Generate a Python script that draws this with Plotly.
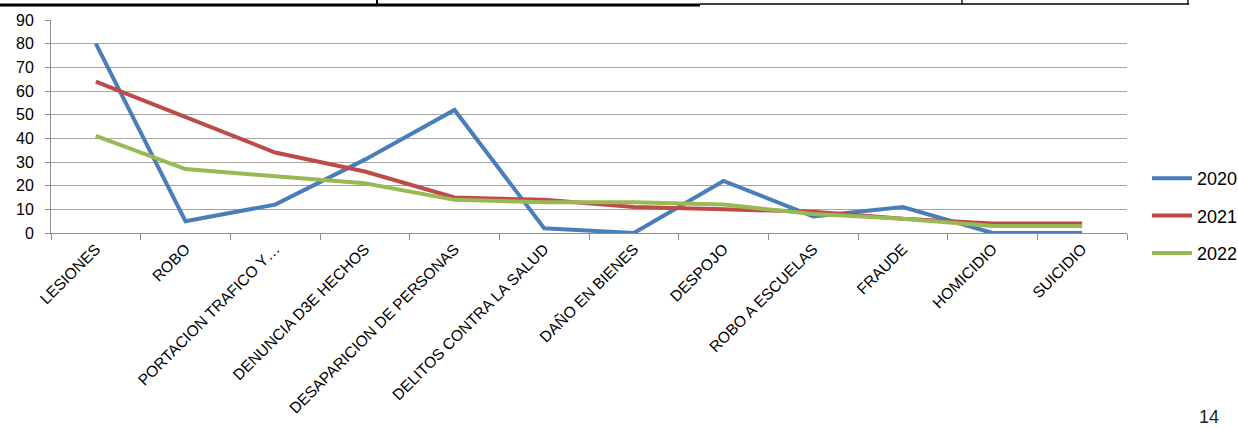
import plotly.graph_objects as go

categories = ["LESIONES", "ROBO", "PORTACION TRAFICO Y…", "DENUNCIA D3E HECHOS",
              "DESAPARICION DE PERSONAS", "DELITOS CONTRA LA SALUD", "DAÑO EN BIENES",
              "DESPOJO", "ROBO A ESCUELAS", "FRAUDE", "HOMICIDIO", "SUICIDIO"]
v2020 = [80, 5, 12, 31, 52, 2, 0, 22, 7, 11, 0, 0]
v2021 = [64, 49, 34, 26, 15, 14, 11, 10, 9, 6, 4, 4]
v2022 = [41, 27, 24, 21, 14, 13, 13, 12, 8, 6, 3, 3]
series = [("2020", v2020, "#4a7ebb"), ("2021", v2021, "#be4b48"), ("2022", v2022, "#98b954")]
y_ticks = list(range(0, 100, 10))

W, H = 1238, 429
L, R, T, B = 51, 1127, 20, 233  # plot area in pixels

def px(x):
    return (x - L) / (R - L)

def py(y):
    return (B - y) / (B - T)

FONT = "Liberation Sans"

fig = go.Figure()
for i, (name, vals, col) in enumerate(series):
    fig.add_trace(go.Scatter(x=categories, y=vals, name=name, mode="lines",
                             line=dict(color=col, width=4), legendgroup=name))

shapes = [
    dict(type="line", xref="paper", yref="paper", x0=px(0), x1=px(700), y0=py(5), y1=py(5),
         line=dict(color="black", width=3)),
    dict(type="line", xref="paper", yref="paper", x0=px(377), x1=px(377), y0=py(-2), y1=py(5),
         line=dict(color="black", width=2)),
    dict(type="line", xref="paper", yref="paper", x0=px(700), x1=px(1189), y0=py(4), y1=py(4),
         line=dict(color="black", width=1.3)),
    dict(type="line", xref="paper", yref="paper", x0=px(962), x1=px(962), y0=py(-2), y1=py(4),
         line=dict(color="black", width=1.3)),
    dict(type="line", xref="paper", yref="paper", x0=px(1188), x1=px(1188), y0=py(-2), y1=py(4),
         line=dict(color="black", width=1.3)),
]

fig.update_layout(
    width=W, height=H, autosize=False,
    margin=dict(l=L, r=W - R, t=T, b=H - B, pad=0, autoexpand=False),
    paper_bgcolor="white", plot_bgcolor="white",
    font=dict(family=FONT, size=14, color="#000000"),
    showlegend=True,
    legend=dict(x=px(1147), xanchor="left", y=py(216), yanchor="middle",
                font=dict(family=FONT, size=18, color="#000"),
                tracegroupgap=11, itemwidth=40, traceorder="grouped",
                bgcolor="rgba(0,0,0,0)"),
    shapes=shapes,
    annotations=[dict(text="14", xref="paper", yref="paper", x=px(1209), y=py(417),
                      xanchor="center", yanchor="middle",
                      showarrow=False, font=dict(family=FONT, size=18, color="#222"))],
)
fig.update_xaxes(type="category", range=[-0.5, 11.5], tickangle=-45, tickson="boundaries",
                 ticks="outside", ticklen=6, tickcolor="#8c8c8c", showline=True,
                 linecolor="#8c8c8c", linewidth=1, showgrid=False, automargin=False,
                 tickfont=dict(family=FONT, size=15.5, color="#000"))
fig.update_yaxes(range=[0, 90], tickvals=y_ticks, ticks="outside", ticklen=5,
                 tickcolor="#8c8c8c", showline=True, linecolor="#8c8c8c", linewidth=1,
                 showgrid=True, gridcolor="#a6a6a6", gridwidth=1, zeroline=False,
                 ticklabelstandoff=8,
                 automargin=False, tickfont=dict(family=FONT, size=16, color="#000"))

fig.write_html("out.html", config={"displayModeBar": False},
               post_script="document.body.style.margin='0';document.body.style.overflow='hidden';")
